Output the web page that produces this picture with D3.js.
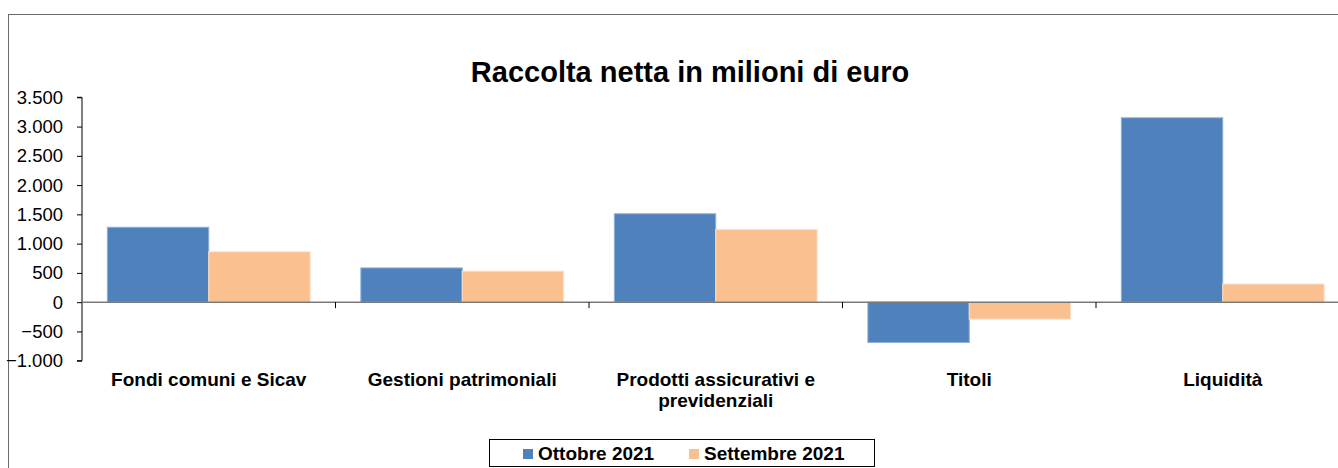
<!DOCTYPE html>
<html>
<head>
<meta charset="utf-8">
<script src="https://cdnjs.cloudflare.com/ajax/libs/d3/7.8.5/d3.min.js"></script>
<style>
  body { margin: 0; background: #fff; }
  svg { display: block; font-family: "Liberation Sans", Arial, sans-serif; }
</style>
</head>
<body>
<div id="chart"></div>
<script>
(function() {
  const categories = ["Fondi comuni e Sicav", "Gestioni patrimoniali", "Prodotti assicurativi e previdenziali", "Titoli", "Liquidità"];
  const seriesNames = ["Ottobre 2021", "Settembre 2021"];
  const ottobre = [1280, 585, 1510, -690, 3150];
  const settembre = [860, 530, 1240, -290, 310];
  const yTicks = [-1000, -500, 0, 500, 1000, 1500, 2000, 2500, 3000, 3500];
  const colors = ["#4f81bd", "#fac090"];
  const strokes = ["#8fb0dc", "#fde0c8"];

  const width = 1338;
  const height = 468;
  const plot = { left: 82, right: 1349.5, top: 97.3, bottom: 360.7 };

  const svg = d3.select("#chart")
    .append("svg")
    .attr("width", width)
    .attr("height", height);

  // outer frame
  svg.append("rect")
    .attr("x", 8.5)
    .attr("y", 14.5)
    .attr("width", 1340)
    .attr("height", 470)
    .attr("fill", "none")
    .attr("stroke", "#6b6b6b")
    .attr("stroke-width", 1);

  svg.append("text")
    .attr("x", 690)
    .attr("y", 82)
    .attr("text-anchor", "middle")
    .attr("font-size", "29px")
    .attr("font-weight", "bold")
    .attr("fill", "#000")
    .text("Raccolta netta in milioni di euro");

  const x = d3.scaleBand()
    .domain(categories)
    .range([plot.left, plot.right])
    .paddingInner(0.2)
    .paddingOuter(0.1);

  const x1 = d3.scaleBand()
    .domain(seriesNames)
    .range([0, x.bandwidth()]);

  const y = d3.scaleLinear()
    .domain([-1000, 3500])
    .range([plot.bottom, plot.top]);

  const data = categories.map((c, i) => ({
    cat: c,
    values: [ottobre[i], settembre[i]]
  }));

  // Bars
  const groups = svg.append("g")
    .selectAll("g")
    .data(data)
    .join("g")
    .attr("transform", d => `translate(${x(d.cat)},0)`);

  groups.selectAll("rect")
    .data(d => d.values.map((v, j) => ({ v, j })))
    .join("rect")
    .attr("x", d => x1(seriesNames[d.j]))
    .attr("y", d => y(Math.max(0, d.v)))
    .attr("width", x1.bandwidth())
    .attr("height", d => Math.abs(y(d.v) - y(0)))
    .attr("fill", d => colors[d.j])
    .attr("stroke", d => strokes[d.j])
    .attr("stroke-width", 1);

  // Y axis
  const yAxis = svg.append("g")
    .attr("transform", `translate(${plot.left},0)`)
    .call(d3.axisLeft(y).tickValues(yTicks).tickSize(5).tickPadding(14)
      .tickFormat(d => d3.format(",")(d).replace(/,/g, ".")));
  yAxis.select(".domain").attr("stroke", "#000").attr("d", `M-5,${y(3500)}H0V${y(-1000)}H-5`);
  yAxis.selectAll(".tick line").attr("stroke", "#000");
  yAxis.selectAll(".tick text")
    .attr("font-size", "18.5px")
    .attr("font-family", "Liberation Sans, Arial, sans-serif")
    .attr("fill", "#000");

  // Zero line with category separators
  const sepTicks = categories.slice(1).map(c => x(c) - x.step() * x.paddingInner() / 2);
  svg.append("line")
    .attr("x1", plot.left)
    .attr("x2", width)
    .attr("y1", y(0))
    .attr("y2", y(0))
    .attr("stroke", "#7a7a7a")
    .attr("stroke-width", 1.5);
  svg.append("g")
    .selectAll("line")
    .data(sepTicks)
    .join("line")
    .attr("x1", d => d)
    .attr("x2", d => d)
    .attr("y1", y(0))
    .attr("y2", y(0) + 6)
    .attr("stroke", "#000");

  // Category labels
  const labelLines = {
    "Prodotti assicurativi e previdenziali": ["Prodotti assicurativi e", "previdenziali"]
  };
  svg.append("g")
    .selectAll("text")
    .data(categories)
    .join("text")
    .attr("x", d => x(d) + x.bandwidth() / 2)
    .attr("y", 386)
    .attr("text-anchor", "middle")
    .attr("font-size", "19px")
    .attr("font-weight", "bold")
    .attr("fill", "#000")
    .each(function(d) {
      const lines = labelLines[d] || [d];
      d3.select(this).selectAll("tspan")
        .data(lines)
        .join("tspan")
        .attr("x", x(d) + x.bandwidth() / 2)
        .attr("dy", (l, i) => i === 0 ? 0 : 21)
        .text(l => l);
    });

  // Legend
  const legend = svg.append("g");
  legend.append("rect")
    .attr("x", 489.5)
    .attr("y", 439.5)
    .attr("width", 385)
    .attr("height", 27)
    .attr("fill", "#fff")
    .attr("stroke", "#000")
    .attr("stroke-width", 1);
  const legendX = [523, 689];
  seriesNames.forEach((s, i) => {
    legend.append("rect")
      .attr("x", legendX[i])
      .attr("y", 449)
      .attr("width", 10)
      .attr("height", 10)
      .attr("fill", colors[i]);
    legend.append("text")
      .attr("x", legendX[i] + 15)
      .attr("y", 460)
      .attr("font-size", "19px")
      .attr("font-weight", "bold")
      .attr("fill", "#000")
      .text(s);
  });
})();
</script>
</body>
</html>
